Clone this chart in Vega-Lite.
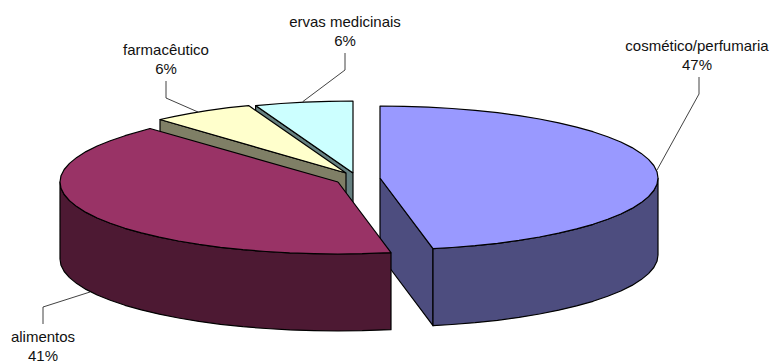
{
  "$schema": "https://vega.github.io/schema/vega-lite/v6.json",
  "width": 773,
  "height": 361,
  "autosize": {"type": "none"},
  "padding": 0,
  "background": "white",
  "view": {"stroke": null},
  "datasets": {
    "faces": [
      {"part":"ervas lateral","i":1,"x":255.6,"y":105.6},{"part":"ervas lateral","i":2,"x":353,"y":173},{"part":"ervas lateral","i":3,"x":353,"y":250},{"part":"ervas lateral","i":4,"x":255.6,"y":182.6},{"part":"ervas lateral","i":5,"x":255.6,"y":105.6},
      {"part":"ervas topo","i":1,"x":353,"y":173},{"part":"ervas topo","i":2,"x":353,"y":101},{"part":"ervas topo","i":3,"x":328.8,"y":101.3},{"part":"ervas topo","i":4,"x":304.7,"y":102.1},{"part":"ervas topo","i":5,"x":281,"y":103.5},{"part":"ervas topo","i":6,"x":255.6,"y":105.6},{"part":"ervas topo","i":7,"x":353,"y":173},
      {"part":"farmacêutico lateral","i":1,"x":160,"y":119.5},{"part":"farmacêutico lateral","i":2,"x":346,"y":173},{"part":"farmacêutico lateral","i":3,"x":346,"y":250},{"part":"farmacêutico lateral","i":4,"x":160,"y":196.5},{"part":"farmacêutico lateral","i":5,"x":160,"y":119.5},
      {"part":"farmacêutico topo","i":1,"x":346,"y":173},{"part":"farmacêutico topo","i":2,"x":248.6,"y":105.6},{"part":"farmacêutico topo","i":3,"x":228.5,"y":107.7},{"part":"farmacêutico topo","i":4,"x":207,"y":110.6},{"part":"farmacêutico topo","i":5,"x":190.5,"y":113.3},{"part":"farmacêutico topo","i":6,"x":174.8,"y":116.3},{"part":"farmacêutico topo","i":7,"x":160,"y":119.5},{"part":"farmacêutico topo","i":8,"x":346,"y":173},
      {"part":"cosmético corte","i":1,"x":380,"y":178},{"part":"cosmético corte","i":2,"x":433,"y":248.7},{"part":"cosmético corte","i":3,"x":433,"y":325.7},{"part":"cosmético corte","i":4,"x":380,"y":255},{"part":"cosmético corte","i":5,"x":380,"y":178},
      {"part":"cosmético parede","i":1,"x":658,"y":178},{"part":"cosmético parede","i":2,"x":657,"y":184.3},{"part":"cosmético parede","i":3,"x":653.8,"y":190.5},{"part":"cosmético parede","i":4,"x":648.5,"y":196.6},{"part":"cosmético parede","i":5,"x":641.2,"y":202.6},{"part":"cosmético parede","i":6,"x":632,"y":208.4},{"part":"cosmético parede","i":7,"x":620.8,"y":214},{"part":"cosmético parede","i":8,"x":607.7,"y":219.3},{"part":"cosmético parede","i":9,"x":593,"y":224.3},{"part":"cosmético parede","i":10,"x":576.6,"y":228.9},{"part":"cosmético parede","i":11,"x":558.7,"y":233.2},{"part":"cosmético parede","i":12,"x":539.5,"y":237},{"part":"cosmético parede","i":13,"x":519,"y":240.4},{"part":"cosmético parede","i":14,"x":497.5,"y":243.3},{"part":"cosmético parede","i":15,"x":475.1,"y":245.7},{"part":"cosmético parede","i":16,"x":452,"y":247.5},{"part":"cosmético parede","i":17,"x":433,"y":248.7},
      {"part":"cosmético parede","i":18,"x":433,"y":325.7},{"part":"cosmético parede","i":19,"x":452,"y":324.5},{"part":"cosmético parede","i":20,"x":475.1,"y":322.7},{"part":"cosmético parede","i":21,"x":497.5,"y":320.3},{"part":"cosmético parede","i":22,"x":519,"y":317.4},{"part":"cosmético parede","i":23,"x":539.5,"y":314},{"part":"cosmético parede","i":24,"x":558.7,"y":310.2},{"part":"cosmético parede","i":25,"x":576.6,"y":305.9},{"part":"cosmético parede","i":26,"x":593,"y":301.3},{"part":"cosmético parede","i":27,"x":607.7,"y":296.3},{"part":"cosmético parede","i":28,"x":620.8,"y":291},{"part":"cosmético parede","i":29,"x":632,"y":285.4},{"part":"cosmético parede","i":30,"x":641.2,"y":279.6},{"part":"cosmético parede","i":31,"x":648.5,"y":273.6},{"part":"cosmético parede","i":32,"x":653.8,"y":267.5},{"part":"cosmético parede","i":33,"x":657,"y":261.3},{"part":"cosmético parede","i":34,"x":658,"y":255},{"part":"cosmético parede","i":35,"x":658,"y":178},
      {"part":"cosmético topo","i":1,"x":380,"y":178},{"part":"cosmético topo","i":2,"x":380,"y":106},{"part":"cosmético topo","i":3,"x":404.2,"y":106.3},{"part":"cosmético topo","i":4,"x":428.3,"y":107.1},{"part":"cosmético topo","i":5,"x":452,"y":108.5},{"part":"cosmético topo","i":6,"x":475.1,"y":110.3},{"part":"cosmético topo","i":7,"x":497.5,"y":112.7},{"part":"cosmético topo","i":8,"x":519,"y":115.6},{"part":"cosmético topo","i":9,"x":539.5,"y":119},{"part":"cosmético topo","i":10,"x":558.7,"y":122.8},{"part":"cosmético topo","i":11,"x":576.6,"y":127.1},{"part":"cosmético topo","i":12,"x":593,"y":131.7},{"part":"cosmético topo","i":13,"x":607.7,"y":136.7},{"part":"cosmético topo","i":14,"x":620.8,"y":142},{"part":"cosmético topo","i":15,"x":632,"y":147.6},{"part":"cosmético topo","i":16,"x":641.2,"y":153.4},{"part":"cosmético topo","i":17,"x":648.5,"y":159.4},{"part":"cosmético topo","i":18,"x":653.8,"y":165.5},{"part":"cosmético topo","i":19,"x":657,"y":171.7},{"part":"cosmético topo","i":20,"x":658,"y":178},{"part":"cosmético topo","i":21,"x":657,"y":184.3},{"part":"cosmético topo","i":22,"x":653.8,"y":190.5},{"part":"cosmético topo","i":23,"x":648.5,"y":196.6},{"part":"cosmético topo","i":24,"x":641.2,"y":202.6},{"part":"cosmético topo","i":25,"x":632,"y":208.4},{"part":"cosmético topo","i":26,"x":620.8,"y":214},{"part":"cosmético topo","i":27,"x":607.7,"y":219.3},{"part":"cosmético topo","i":28,"x":593,"y":224.3},{"part":"cosmético topo","i":29,"x":576.6,"y":228.9},{"part":"cosmético topo","i":30,"x":558.7,"y":233.2},{"part":"cosmético topo","i":31,"x":539.5,"y":237},{"part":"cosmético topo","i":32,"x":519,"y":240.4},{"part":"cosmético topo","i":33,"x":497.5,"y":243.3},{"part":"cosmético topo","i":34,"x":475.1,"y":245.7},{"part":"cosmético topo","i":35,"x":452,"y":247.5},{"part":"cosmético topo","i":36,"x":433,"y":248.7},{"part":"cosmético topo","i":37,"x":380,"y":178},
      {"part":"alimentos parede","i":1,"x":391,"y":252.7},{"part":"alimentos parede","i":2,"x":362.2,"y":253.7},{"part":"alimentos parede","i":3,"x":338,"y":254},{"part":"alimentos parede","i":4,"x":313.8,"y":253.7},{"part":"alimentos parede","i":5,"x":289.7,"y":252.9},{"part":"alimentos parede","i":6,"x":266,"y":251.5},{"part":"alimentos parede","i":7,"x":242.9,"y":249.7},{"part":"alimentos parede","i":8,"x":220.5,"y":247.3},{"part":"alimentos parede","i":9,"x":199,"y":244.4},{"part":"alimentos parede","i":10,"x":178.5,"y":241},{"part":"alimentos parede","i":11,"x":159.3,"y":237.2},{"part":"alimentos parede","i":12,"x":141.4,"y":232.9},{"part":"alimentos parede","i":13,"x":125,"y":228.3},{"part":"alimentos parede","i":14,"x":110.3,"y":223.3},{"part":"alimentos parede","i":15,"x":97.2,"y":218},{"part":"alimentos parede","i":16,"x":86,"y":212.4},{"part":"alimentos parede","i":17,"x":76.8,"y":206.6},{"part":"alimentos parede","i":18,"x":69.5,"y":200.6},{"part":"alimentos parede","i":19,"x":64.2,"y":194.5},{"part":"alimentos parede","i":20,"x":61,"y":188.3},{"part":"alimentos parede","i":21,"x":60,"y":182},
      {"part":"alimentos parede","i":22,"x":60,"y":259},{"part":"alimentos parede","i":23,"x":61,"y":265.3},{"part":"alimentos parede","i":24,"x":64.2,"y":271.5},{"part":"alimentos parede","i":25,"x":69.5,"y":277.6},{"part":"alimentos parede","i":26,"x":76.8,"y":283.6},{"part":"alimentos parede","i":27,"x":86,"y":289.4},{"part":"alimentos parede","i":28,"x":97.2,"y":295},{"part":"alimentos parede","i":29,"x":110.3,"y":300.3},{"part":"alimentos parede","i":30,"x":125,"y":305.3},{"part":"alimentos parede","i":31,"x":141.4,"y":309.9},{"part":"alimentos parede","i":32,"x":159.3,"y":314.2},{"part":"alimentos parede","i":33,"x":178.5,"y":318},{"part":"alimentos parede","i":34,"x":199,"y":321.4},{"part":"alimentos parede","i":35,"x":220.5,"y":324.3},{"part":"alimentos parede","i":36,"x":242.9,"y":326.7},{"part":"alimentos parede","i":37,"x":266,"y":328.5},{"part":"alimentos parede","i":38,"x":289.7,"y":329.9},{"part":"alimentos parede","i":39,"x":313.8,"y":330.7},{"part":"alimentos parede","i":40,"x":338,"y":331},{"part":"alimentos parede","i":41,"x":362.2,"y":330.7},{"part":"alimentos parede","i":42,"x":391,"y":329.7},{"part":"alimentos parede","i":43,"x":391,"y":252.7},
      {"part":"alimentos topo","i":1,"x":338,"y":182},{"part":"alimentos topo","i":2,"x":391,"y":252.7},{"part":"alimentos topo","i":3,"x":362.2,"y":253.7},{"part":"alimentos topo","i":4,"x":338,"y":254},{"part":"alimentos topo","i":5,"x":313.8,"y":253.7},{"part":"alimentos topo","i":6,"x":289.7,"y":252.9},{"part":"alimentos topo","i":7,"x":266,"y":251.5},{"part":"alimentos topo","i":8,"x":242.9,"y":249.7},{"part":"alimentos topo","i":9,"x":220.5,"y":247.3},{"part":"alimentos topo","i":10,"x":199,"y":244.4},{"part":"alimentos topo","i":11,"x":178.5,"y":241},{"part":"alimentos topo","i":12,"x":159.3,"y":237.2},{"part":"alimentos topo","i":13,"x":141.4,"y":232.9},{"part":"alimentos topo","i":14,"x":125,"y":228.3},{"part":"alimentos topo","i":15,"x":110.3,"y":223.3},{"part":"alimentos topo","i":16,"x":97.2,"y":218},{"part":"alimentos topo","i":17,"x":86,"y":212.4},{"part":"alimentos topo","i":18,"x":76.8,"y":206.6},{"part":"alimentos topo","i":19,"x":69.5,"y":200.6},{"part":"alimentos topo","i":20,"x":64.2,"y":194.5},{"part":"alimentos topo","i":21,"x":61,"y":188.3},{"part":"alimentos topo","i":22,"x":60,"y":182},{"part":"alimentos topo","i":23,"x":61,"y":175.7},{"part":"alimentos topo","i":24,"x":64.2,"y":169.5},{"part":"alimentos topo","i":25,"x":69.5,"y":163.4},{"part":"alimentos topo","i":26,"x":76.8,"y":157.4},{"part":"alimentos topo","i":27,"x":86,"y":151.6},{"part":"alimentos topo","i":28,"x":97.2,"y":146},{"part":"alimentos topo","i":29,"x":110.3,"y":140.7},{"part":"alimentos topo","i":30,"x":125,"y":135.7},{"part":"alimentos topo","i":31,"x":150,"y":128.5},{"part":"alimentos topo","i":32,"x":338,"y":182}
    ],
    "leaders": [
      {"category":"cosmético/perfumaria","i":1,"x":699,"y":77},{"category":"cosmético/perfumaria","i":2,"x":699,"y":94},{"category":"cosmético/perfumaria","i":3,"x":657,"y":170},
      {"category":"ervas medicinais","i":1,"x":345,"y":53},{"category":"ervas medicinais","i":2,"x":345,"y":70},{"category":"ervas medicinais","i":3,"x":302.7,"y":101.7},
      {"category":"farmacêutico","i":1,"x":166,"y":81},{"category":"farmacêutico","i":2,"x":166,"y":98},{"category":"farmacêutico","i":3,"x":198,"y":112},
      {"category":"alimentos","i":1,"x":43,"y":324},{"category":"alimentos","i":2,"x":43,"y":307},{"category":"alimentos","i":3,"x":90,"y":292}
    ],
    "labels": [
      {"category":"cosmético/perfumaria","share":0.47,"x":697,"y":46},
      {"category":"ervas medicinais","share":0.06,"x":345,"y":22},
      {"category":"farmacêutico","share":0.06,"x":166,"y":50},
      {"category":"alimentos","share":0.41,"x":43,"y":337}
    ]
  },
  "encoding": {
    "x": {"field":"x","type":"quantitative","axis":null,"scale":{"domain":[0,773],"nice":false,"zero":false}},
    "y": {"field":"y","type":"quantitative","axis":null,"scale":{"domain":[361,0],"nice":false,"zero":false}}
  },
  "layer": [
    {
      "data": {"name":"leaders"},
      "mark": {"type":"line","stroke":"#111111","strokeWidth":0.8},
      "encoding": {
        "detail": {"field":"category"},
        "order": {"field":"i","type":"quantitative"}
      }
    },
    {
      "data": {"name":"faces"},
      "mark": {"type":"line","stroke":"black","strokeWidth":1.2,"strokeJoin":"round"},
      "encoding": {
        "detail": {"field":"part"},
        "order": {"field":"i","type":"quantitative"},
        "fill": {
          "field":"part",
          "type":"nominal",
          "legend":null,
          "sort":null,
          "scale":{
            "domain":["ervas lateral","ervas topo","farmacêutico lateral","farmacêutico topo","cosmético corte","cosmético parede","cosmético topo","alimentos parede","alimentos topo"],
            "range":["#668080","#CCFFFF","#7F7F66","#FFFFCC","#4D4D7F","#4D4D7F","#9999FF","#4D1933","#993366"]
          }
        }
      }
    },
    {
      "data": {"name":"labels"},
      "mark": {"type":"text","font":"Liberation Sans","fontSize":15,"align":"center","baseline":"middle","fill":"#111111"},
      "encoding": {"text": {"field":"category"}}
    },
    {
      "data": {"name":"labels"},
      "mark": {"type":"text","font":"Liberation Sans","fontSize":15,"align":"center","baseline":"middle","fill":"#111111","dy":18.5},
      "encoding": {"text": {"field":"share","type":"quantitative","format":".0%"}}
    }
  ]
}
